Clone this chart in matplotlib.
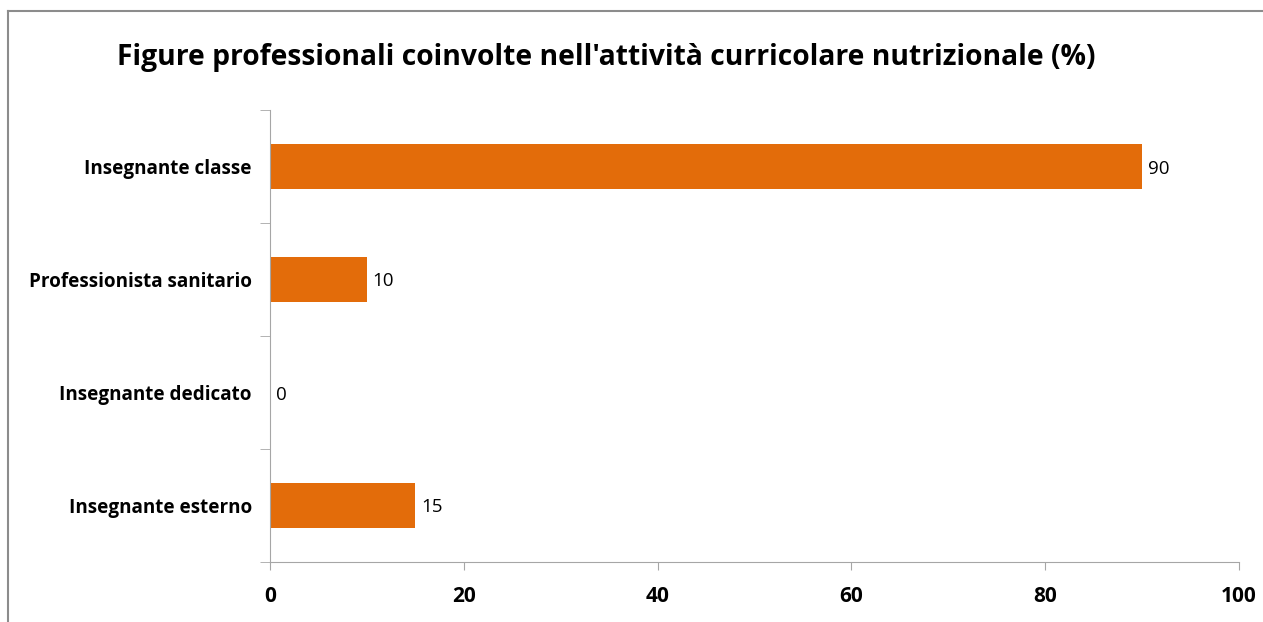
import matplotlib.pyplot as plt
from matplotlib.lines import Line2D

categorie = ['Insegnante classe', 'Professionista sanitario', 'Insegnante dedicato', 'Insegnante esterno']
valori = [90, 10, 0, 15]
xticks = [0, 20, 40, 60, 80, 100]
titolo = "Figure professionali coinvolte nell'attività curricolare nutrizionale (%)"

arancio = '#e36c0a'
grigio = '#a6a6a6'
plt.rcParams['font.family'] = ['Open Sans', 'DejaVu Sans']

fig = plt.figure(figsize=(12.63, 6.22), dpi=100)
ax = fig.add_axes([270/1263, 1 - 562/622, (1239 - 270)/1263, (562 - 110)/622])

pos = list(range(len(categorie)))[::-1]
ax.barh(pos, valori, height=0.4, color=arancio)
for p, v in zip(pos, valori):
    ax.text(v + 0.6, p, str(v), va='center_baseline', ha='left', fontsize=13.5)

ax.set_xlim(0, 100)
ax.set_ylim(-0.5, len(categorie) - 0.5)
ax.set_xticks(xticks)
ax.set_xticklabels([str(t) for t in xticks], fontsize=15, fontweight='bold')
ax.set_yticks(pos)
ax.set_yticklabels(categorie, fontsize=13.6, fontweight='bold')
ax.set_yticks([i - 0.5 for i in range(len(categorie) + 1)], minor=True)
ax.tick_params(axis='y', which='major', length=0, pad=13)
ax.tick_params(axis='y', which='minor', length=7, color=grigio, direction='out')
ax.tick_params(axis='x', length=6, color=grigio, direction='out', pad=11)
for s in ['top', 'right']:
    ax.spines[s].set_visible(False)
for s in ['left', 'bottom']:
    ax.spines[s].set_color(grigio)

fig.text(606/1263, 1 - 57/622, titolo, ha='center', va='center', fontsize=20.3, fontweight='bold')

# cornice del grafico
fig.add_artist(Line2D([8/1263, 1], [1 - 11/622, 1 - 11/622], color='#8c8c8c', lw=1.5))
fig.add_artist(Line2D([8/1263, 8/1263], [0, 1 - 11/622], color='#8c8c8c', lw=1.5))

fig.savefig('out.png', dpi=100)
